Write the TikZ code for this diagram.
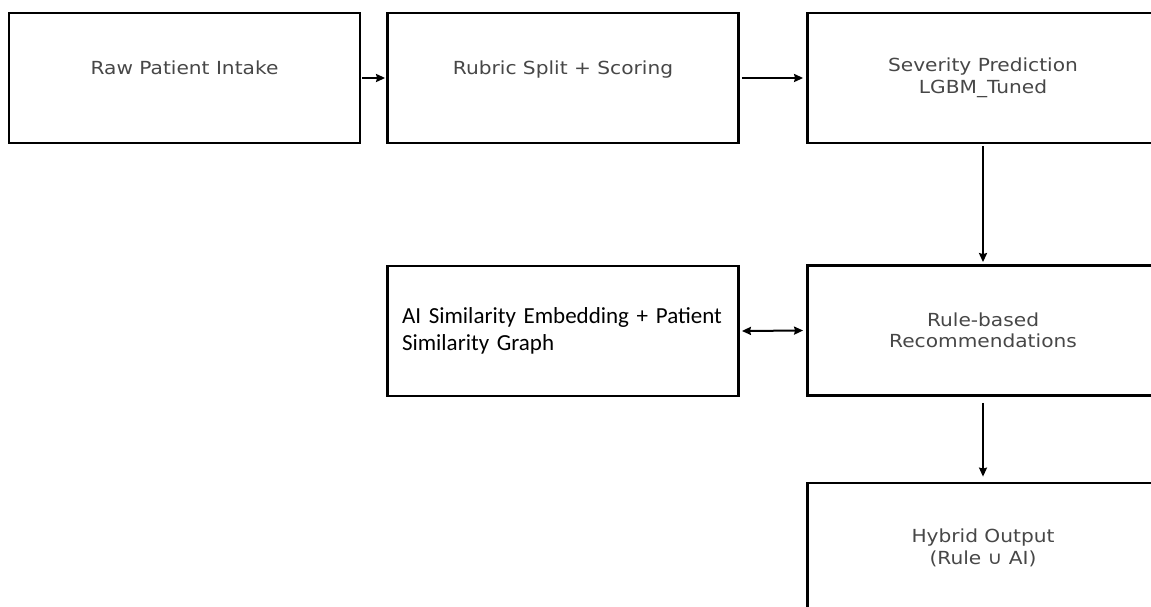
\documentclass[tikz,border=0pt]{standalone}
\usepackage{fontspec}
\setmainfont{DejaVu Sans}
\newfontfamily\calfont{Carlito}
\usetikzlibrary{arrows.meta}
\newcommand\hs[1]{\scalebox{1.12}[1]{#1}}
\begin{document}
\begin{tikzpicture}[x=1pt,y=-1pt,
  box/.style={draw=black, line width=2.8pt, minimum width=351pt, minimum height=130pt,
    inner sep=0pt, align=center, font=\fontsize{18}{21.5}\selectfont, text=black!72},
  aibox/.style={box, text width=322pt, align=left, font=\calfont\fontsize{23}{27}\selectfont, text=black},
  arr/.style={line width=2pt, -{Stealth[length=9pt,width=8pt,inset=1pt]}},
  darr/.style={line width=2pt, {Stealth[length=9pt,width=8pt,inset=1pt]}-{Stealth[length=9pt,width=8pt,inset=1pt]}},
  thinarr/.style={line width=1.6pt, -{Stealth[length=9pt,width=8pt,inset=1pt]}}]
\useasboundingbox (0,0) rectangle (1151,607);
\clip (0,0) rectangle (1151,607);
\fill[white] (0,0) rectangle (1151,607);
\node[box] (raw) at (184.5,78) {\hs{Raw Patient Intake}\\\mbox{}};
\node[box] (rub) at (563,78) {\hs{Rubric Split + Scoring}\\\mbox{}};
\node[box] (sev) at (983,78) {\hs{Severity Prediction}\\\hs{LGBM\_Tuned}};
\node[box] (rule) at (983,330.5) {\hs{Rule-based}\\\hs{Recommendations}};
\node[aibox] (ai) at (563,331) {AI Similarity Embedding + Patient\\Similarity Graph};
\node[box] (hyb) at (983,548) {\hs{Hybrid Output}\\\hs{(Rule ∪ AI)}};
\draw[arr, shorten <=1pt, shorten >=1pt] (raw.east) -- (rub.west);
\draw[arr, shorten <=2pt, shorten >=3pt] (rub.east) -- (sev.west);
\draw[arr, shorten <=2pt, shorten >=2pt] (sev.south) -- (rule.north);
\draw[darr, shorten <=2pt, shorten >=3pt] (ai.east) -- (rule.west);
\draw[thinarr, shorten <=6pt, shorten >=5pt] (rule.south) -- (hyb.north);
\end{tikzpicture}
\end{document}
